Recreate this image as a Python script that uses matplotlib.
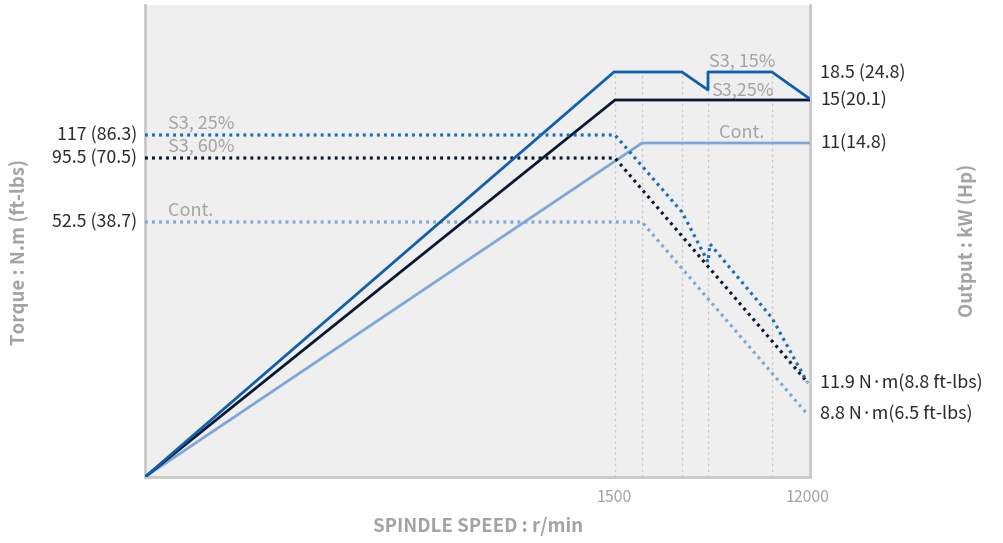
import matplotlib
matplotlib.use("Agg")
import matplotlib.pyplot as plt

plt.rcParams['font.family'] = ['Noto Sans CJK KR', 'DejaVu Sans']

# ---- data (chart units: x = position along speed axis, y = height above base) ----
speed_ticks_pos = [469, 663]
speed_ticks_lab = ["1500", "12000"]
grid_x = [470, 497, 537, 563, 627]
grid_top = 405

pw_s3_15_x = [0, 469, 537, 563, 563, 627, 665]
pw_s3_15_y = [0, 405, 405, 387, 405, 405, 378]
pw_s3_25_x = [0, 470, 665]
pw_s3_25_y = [0, 377, 377]
pw_cont_x = [0, 497, 665]
pw_cont_y = [0, 334, 334]

tq_s3_25_x = [0, 470, 537, 563, 565, 627, 662]
tq_s3_25_y = [342, 342, 265, 215, 233, 159, 95]
tq_s3_60_x = [0, 470, 663]
tq_s3_60_y = [319, 319, 94]
tq_cont_x = [0, 497, 663]
tq_cont_y = [255, 255, 62]

left_labels = ["117 (86.3)", "95.5 (70.5)", "52.5 (38.7)"]
left_label_y = [342, 319, 255]
right_labels = ["18.5 (24.8)", "15(20.1)", "11(14.8)", "11.9 N\u00b7m(8.8 ft-lbs)", "8.8 N\u00b7m(6.5 ft-lbs)"]
right_label_y = [404, 377, 334, 94, 63]

c_blue = "#0f5fae"
c_navy = "#0c1830"
c_light = "#7ea6d8"
c_bluedot = "#1a6dbd"
c_gray = "#a3a3a3"
c_text = "#2b2b2b"

fig = plt.figure(figsize=(10.04, 5.43), dpi=100)
ax = fig.add_axes([145/1004, (543-477)/543, 665/1004, 472/543])
ax.set_facecolor("#efefef")
ax.set_xlim(0, 665)
ax.set_ylim(0, 472)

ax.spines['top'].set_visible(False)
for s in ['left', 'right', 'bottom']:
    ax.spines[s].set_color("#c8c8c8")
    ax.spines[s].set_linewidth(2)

# grid
for gx in grid_x:
    ax.plot([gx, gx], [0, grid_top], color="#c9c9c9", lw=0.9, ls=(0, (2, 2.5)), zorder=1)

# power curves
ax.plot(pw_cont_x, pw_cont_y, color=c_light, lw=2.0, zorder=3, solid_capstyle='butt')
ax.plot(pw_s3_25_x, pw_s3_25_y, color=c_navy, lw=2.0, zorder=4, solid_capstyle='butt')
ax.plot(pw_s3_15_x, pw_s3_15_y, color=c_blue, lw=2.0, zorder=5, solid_capstyle='butt')

# torque curves
dot = (0, (0.9, 1.3))
ax.plot(tq_cont_x, tq_cont_y, color=c_light, lw=2.3, ls=dot, zorder=3)
ax.plot(tq_s3_60_x, tq_s3_60_y, color=c_navy, lw=2.3, ls=dot, zorder=4)
ax.plot(tq_s3_25_x, tq_s3_25_y, color=c_bluedot, lw=2.3, ls=dot, zorder=5)

# in-plot gray labels
gfs = 13
ax.text(23, 344, "S3, 25%", color=c_gray, fontsize=gfs, ha='left', va='bottom')
ax.text(23, 321, "S3, 60%", color=c_gray, fontsize=gfs, ha='left', va='bottom')
ax.text(23, 257, "Cont.", color=c_gray, fontsize=gfs, ha='left', va='bottom')
ax.text(597, 406, "S3, 15%", color=c_gray, fontsize=gfs, ha='center', va='bottom')
ax.text(597, 377, "S3,25%", color=c_gray, fontsize=gfs, ha='center', va='bottom')
ax.text(597, 335, "Cont.", color=c_gray, fontsize=gfs, ha='center', va='bottom')

# left value labels
for lab, y in zip(left_labels, left_label_y):
    ax.text(-8, y, lab, color=c_text, fontsize=12.8, ha='right', va='center')
# right value labels
for lab, y in zip(right_labels, right_label_y):
    ax.text(675, y, lab, color=c_text, fontsize=12.9, ha='left', va='center')

ax.set_xticks(speed_ticks_pos)
ax.set_xticklabels(speed_ticks_lab, color=c_gray, fontsize=11.5)
ax.tick_params(axis='x', length=0, pad=9)
ax.set_yticks([])

fig.text(478/1004, 1 - 527/543, "SPINDLE SPEED : r/min", color=c_gray, fontsize=13.4,
         fontweight='bold', ha='center', va='center')
fig.text(19/1004, 1 - 252/543, "Torque : N.m (ft-lbs)", color=c_gray, fontsize=13.4,
         fontweight='bold', ha='center', va='center', rotation=90)
fig.text(967/1004, 1 - 240/543, "Output : kW (Hp)", color=c_gray, fontsize=13.4,
         fontweight='bold', ha='center', va='center', rotation=90)

fig.savefig("out.png", dpi=100)
